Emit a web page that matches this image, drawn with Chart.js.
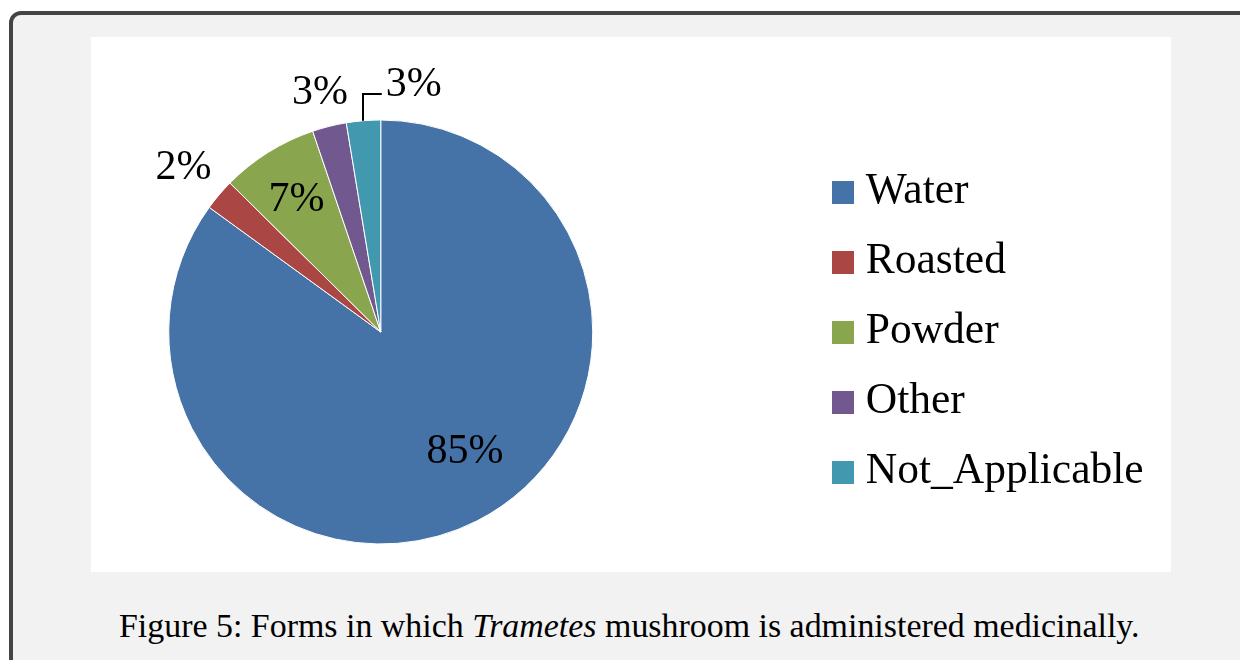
<!DOCTYPE html>
<html>
<head>
<meta charset="utf-8">
<script src="https://cdn.jsdelivr.net/npm/chart.js@4.4.1/dist/chart.umd.min.js"></script>
<style>
  html, body { margin:0; padding:0; background:#ffffff; width:1240px; height:660px; overflow:hidden; position:relative; }
  #frame { position:absolute; left:9px; top:11px; width:1300px; height:720px; box-sizing:border-box;
           border:4px solid #444444; border-radius:12px; background:#f2f2f2; }
  #plot { position:absolute; left:91px; top:37px; width:1080px; height:535px; background:#ffffff; }
  #wrap { position:absolute; left:-54px; top:37px; width:1300px; height:535px; }
  #caption { position:absolute; left:119px; top:610px; font-family:"Liberation Serif", "Times New Roman", serif;
             font-size:32px; line-height:1; color:#000; white-space:nowrap; }
</style>
</head>
<body>
<div id="frame"></div>
<div id="plot"></div>
<div id="wrap"><canvas id="c"></canvas></div>
<div id="caption">Figure 5: Forms in which <i>Trametes</i> mushroom is administered medicinally.</div>
<script>
// ---- data ----
const categories = ['Water', 'Roasted', 'Powder', 'Other', 'Not_Applicable'];
const shares = [85.0, 2.4, 7.4, 2.6, 2.6];
const percentLabels = ['85%', '2%', '7%', '3%', '3%'];
const colors = ['#4572A7', '#AA4643', '#89A54E', '#71588F', '#4198AF'];

// label placement (angle offset in degrees from slice middle, distance as fraction of radius)
const labelPlacement = [
  { dAngle: -8.8, dist: 0.68, leader: false },
  { dAngle: 0, dist: 1.22, leader: false },
  { dAngle: 0, dist: 0.75, leader: false },
  { dAngle: 0, dist: 1.18, leader: false },
  { dAngle: 12.2, dist: 1.19, leader: true }
];

const FONT_FAMILY = '"Liberation Serif", "Times New Roman", serif';
const LABEL_SIZE = 42;
const LEGEND_SIZE = 43.5;

// legend swatches as images
const SW_W = 22, SW_H = 23;
const swatches = colors.map(col => {
  const cv = document.createElement('canvas');
  cv.width = SW_W; cv.height = SW_H;
  const cx = cv.getContext('2d');
  cx.fillStyle = col; cx.fillRect(0, 0, SW_W, SW_H);
  return cv;
});

// measure legend width to place it
const mctx = document.createElement('canvas').getContext('2d');
mctx.font = LEGEND_SIZE + 'px ' + FONT_FAMILY;
let maxText = 0;
categories.forEach(t => { maxText = Math.max(maxText, mctx.measureText(t).width); });
const legendPad = 70 - LEGEND_SIZE;
const legendWidth = legendPad + 2 + LEGEND_SIZE / 2 + maxText + 10;
const canvasW = 1300;
const legendLeft = 842 + 54 - legendPad; // canvas coords
const padRight = canvasW - legendLeft - legendWidth;

const labelPlugin = {
  id: 'pctLabels',
  afterDatasetsDraw(chart) {
    const ctx = chart.ctx;
    const meta = chart.getDatasetMeta(0);
    ctx.save();
    ctx.font = LABEL_SIZE + 'px ' + FONT_FAMILY;
    ctx.fillStyle = '#000';
    ctx.textAlign = 'center';
    ctx.textBaseline = 'alphabetic';
    meta.data.forEach((arc, i) => {
      const p = arc.getProps(['x', 'y', 'startAngle', 'endAngle', 'outerRadius'], true);
      const mid = (p.startAngle + p.endAngle) / 2;
      const pl = labelPlacement[i];
      const a = mid + pl.dAngle * Math.PI / 180;
      const lx = p.x + Math.cos(a) * p.outerRadius * pl.dist;
      const ly = p.y + Math.sin(a) * p.outerRadius * pl.dist;
      const txt = percentLabels[i];
      ctx.fillText(txt, lx, ly + LABEL_SIZE * 0.338);
      if (pl.leader) {
        const w = ctx.measureText(txt).width;
        const ex = p.x + Math.cos(mid) * p.outerRadius;
        const ey = p.y + Math.sin(mid) * p.outerRadius;
        const hy = ly + 12;
        ctx.beginPath();
        ctx.strokeStyle = '#000';
        ctx.lineWidth = 2;
        ctx.moveTo(Math.round(ex), ey);
        ctx.lineTo(Math.round(ex), hy);
        ctx.lineTo(lx - w / 2 - 4, hy);
        ctx.stroke();
      }
    });
    ctx.restore();
  }
};

const baseGen = (Chart.overrides && Chart.overrides.pie && Chart.overrides.pie.plugins.legend.labels.generateLabels)
  || Chart.PieController.overrides.plugins.legend.labels.generateLabels;

new Chart(document.getElementById('c'), {
  type: 'pie',
  data: {
    labels: categories,
    datasets: [{
      data: shares,
      backgroundColor: colors,
      borderColor: '#ffffff',
      borderWidth: 1,
      hoverBorderWidth: 1,
      hoverOffset: 0,
      offset: 0
    }]
  },
  options: {
    responsive: true,
    maintainAspectRatio: false,
    animation: false,
    events: [],
    layout: { padding: { left: 0, right: padRight, top: 82.5, bottom: 27.5 } },
    plugins: {
      tooltip: { enabled: false },
      legend: {
        position: 'right',
        align: 'center',
        labels: {
          usePointStyle: true,
          pointStyleWidth: 2,
          padding: legendPad,
          color: '#000',
          font: { family: FONT_FAMILY, size: LEGEND_SIZE },
          generateLabels(chart) {
            const items = baseGen(chart);
            items.forEach((it, i) => { it.pointStyle = swatches[i]; it.lineWidth = 0; });
            return items;
          }
        }
      }
    }
  },
  plugins: [labelPlugin]
});

// fit caption width to reference (~1021px)
const cap = document.getElementById('caption');
const w0 = cap.getBoundingClientRect().width;
const fs = 32 * 1021 / w0;
cap.style.fontSize = fs.toFixed(2) + 'px';
cap.style.top = (637 - fs * 0.8375).toFixed(1) + 'px';
</script>
</body>
</html>
